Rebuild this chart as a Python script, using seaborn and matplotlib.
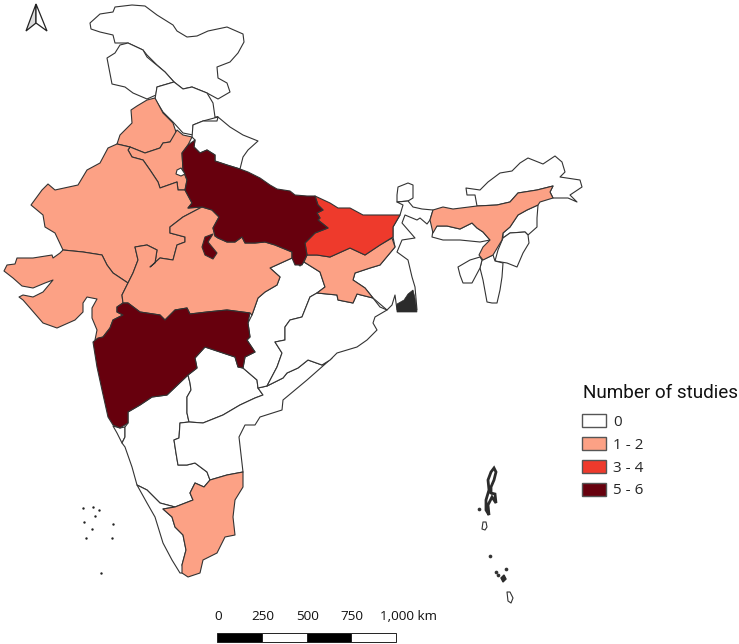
import pandas as pd
import seaborn as sns
import matplotlib.pyplot as plt
from matplotlib.patches import Patch

# outlines, in image pixels
ladakh = [(90,23),(100,14),(113,12),(115,7),(132,5),(145,6),(157,15),(173,25),(177,31),(187,37),(197,36),(208,31),(227,27),(243,34),(244,42),(238,53),(230,62),(217,67),(218,78),(227,83),(230,92),(218,99),(207,93),(192,87),(183,89),(174,82),(165,72),(157,65),(147,55),(143,50),(128,43),(115,43),(113,35),(100,32),(91,29)]
jammu = [(120,45),(128,43),(143,50),(147,57),(165,72),(174,82),(157,87),(156,95),(147,99),(133,93),(125,87),(112,84),(107,58),(115,53)]
himachal = [(174,82),(183,89),(192,87),(207,93),(213,103),(215,117),(218,117),(203,121),(193,125),(193,135),(183,133),(173,122),(163,112),(155,99),(157,87)]
uttarakhand = [(193,125),(203,121),(217,121),(218,117),(230,127),(243,135),(258,141),(248,150),(243,157),(240,169),(227,165),(215,161),(215,155),(207,150),(200,153),(194,147),(195,140),(192,137)]
punjab = [(147,100),(155,98),(163,113),(173,123),(177,135),(170,142),(163,143),(160,148),(145,153),(130,147),(117,144),(120,135),(132,123),(131,110),(137,106)]
haryana = [(130,147),(128,150),(132,157),(143,160),(150,170),(158,182),(160,188),(177,182),(178,190),(185,190),(187,180),(183,170),(182,153),(188,145),(192,137),(183,135),(177,130),(170,142),(163,143),(160,148),(145,153)]
delhi = [(177,170),(181,168),(185,174),(181,176),(176,174)]
rajasthan = [(117,144),(108,148),(100,163),(87,170),(78,185),(55,190),(48,184),(42,190),(31,205),(43,215),(45,227),(55,233),(63,250),(83,252),(102,255),(107,265),(113,273),(128,283),(133,273),(138,260),(135,247),(147,245),(157,250),(155,263),(150,267),(160,258),(173,260),(177,245),(185,242),(185,237),(170,233),(170,227),(183,217),(202,207),(188,208),(192,203),(185,190),(178,190),(177,182),(160,188),(158,182),(150,170),(143,160),(132,157),(128,150),(130,147)]
uttar_pradesh = [(195,140),(194,147),(200,153),(207,150),(215,155),(215,161),(227,165),(240,169),(248,172),(260,178),(270,185),(277,189),(290,191),(295,195),(307,196),(315,196),(318,205),(323,210),(317,213),(320,218),(318,220),(328,228),(315,233),(305,243),(307,255),(302,265),(295,265),(292,258),(292,252),(275,245),(265,242),(255,243),(245,243),(242,237),(235,242),(227,242),(218,238),(215,236),(213,228),(219,217),(212,210),(202,207),(188,208),(192,203),(185,190),(187,180),(183,170),(182,153),(188,145)]
jhansi = [(205,237),(213,234),(208,242),(217,253),(213,259),(205,255),(202,247)]
gujarat = [(4,271),(7,265),(15,264),(17,258),(33,258),(52,255),(53,258),(60,253),(63,250),(83,252),(102,255),(107,265),(113,273),(128,283),(122,295),(123,303),(117,307),(117,312),(123,315),(113,320),(110,328),(103,337),(95,340),(97,330),(92,318),(92,308),(97,299),(87,297),(83,303),(83,312),(75,320),(57,328),(43,323),(30,308),(23,300),(19,297),(23,295),(33,297),(43,292),(53,280),(45,283),(33,288),(22,286),(13,278)]
madhya_pradesh = [(128,283),(133,273),(138,260),(135,247),(147,245),(157,250),(155,263),(150,267),(160,258),(173,260),(177,245),(185,242),(185,237),(170,233),(170,227),(183,217),(202,207),(212,210),(219,217),(213,228),(215,236),(218,238),(227,242),(235,242),(242,237),(245,243),(255,243),(265,242),(275,245),(292,252),(292,258),(270,268),(280,277),(277,285),(265,292),(258,298),(252,315),(250,313),(227,310),(207,312),(190,314),(187,308),(175,310),(165,320),(160,315),(140,312),(128,303),(123,303),(122,295)]
maharashtra = [(117,307),(123,303),(128,303),(140,312),(160,315),(165,320),(175,310),(187,308),(190,314),(207,312),(227,310),(250,313),(248,323),(250,337),(247,340),(255,352),(245,357),(243,368),(238,367),(235,357),(220,352),(205,347),(195,358),(197,368),(188,375),(167,395),(152,397),(140,405),(128,412),(128,423),(120,428),(113,425),(108,417),(102,390),(97,367),(93,342),(98,338),(103,337),(110,328),(113,320),(123,315),(117,312)]
goa = [(113,426),(120,428),(125,427),(125,437),(122,443),(117,433)]
karnataka = [(128,412),(140,405),(152,397),(167,395),(188,375),(190,383),(191,390),(187,397),(187,413),(189,422),(180,423),(179,438),(174,440),(176,453),(178,465),(187,465),(195,463),(207,472),(210,480),(204,487),(195,483),(190,493),(193,500),(175,507),(160,503),(147,490),(137,485),(132,467),(125,447),(122,443),(125,437),(125,427),(128,423)]
kerala = [(137,485),(147,490),(160,503),(175,507),(163,509),(172,517),(175,527),(183,535),(186,550),(182,565),(185,573),(180,573),(172,560),(163,543),(155,517),(147,503)]
tamil_nadu = [(163,509),(175,507),(193,500),(190,493),(195,483),(204,487),(210,480),(227,475),(243,472),(243,487),(235,500),(233,517),(235,535),(225,537),(217,553),(203,560),(200,573),(188,577),(182,573),(182,565),(186,550),(183,535),(175,527),(172,517)]
telangana = [(188,375),(197,368),(195,358),(205,347),(220,352),(235,357),(238,367),(243,368),(257,380),(258,388),(263,395),(255,398),(240,405),(223,415),(203,423),(189,422),(187,413),(187,397),(191,390),(190,383)]
andhra = [(180,423),(189,422),(203,423),(223,415),(240,405),(255,398),(263,395),(258,388),(267,386),(283,378),(287,373),(298,368),(308,360),(322,365),(332,358),(307,380),(283,400),(282,410),(260,417),(255,425),(245,425),(239,437),(243,472),(227,475),(210,480),(207,472),(195,463),(187,465),(178,465),(176,453),(174,440),(179,438)]
chhattisgarh = [(292,258),(300,266),(304,262),(320,272),(325,287),(317,293),(310,297),(302,317),(290,320),(285,327),(285,340),(275,342),(282,353),(277,367),(267,386),(258,388),(257,380),(243,368),(245,357),(255,352),(247,340),(250,337),(248,323),(252,315),(258,298),(265,292),(277,285),(280,277),(270,268)]
odisha = [(317,293),(337,295),(338,300),(353,303),(357,294),(373,298),(380,307),(387,310),(375,317),(373,323),(377,330),(367,340),(357,347),(337,353),(330,360),(322,365),(308,360),(298,368),(287,373),(283,378),(267,386),(277,367),(282,353),(275,342),(285,340),(285,327),(290,320),(302,317),(310,297)]
jharkhand = [(307,255),(304,262),(320,272),(325,287),(317,293),(337,295),(338,300),(353,303),(357,294),(373,298),(365,288),(353,280),(355,273),(370,268),(380,265),(395,247),(392,238),(380,245),(365,255),(350,248),(330,257),(317,255)]
bihar = [(315,196),(330,203),(338,208),(350,208),(363,215),(383,215),(400,215),(393,227),(393,237),(380,245),(365,255),(350,248),(330,257),(317,255),(307,255),(305,243),(315,233),(328,228),(318,220),(320,218),(317,213),(323,210),(318,205)]
sikkim = [(398,187),(408,183),(413,185),(413,198),(408,201),(397,202),(397,195)]
west_bengal = [(397,202),(408,201),(413,207),(422,209),(433,210),(430,220),(427,224),(420,218),(417,220),(405,215),(402,223),(415,238),(402,240),(397,252),(408,260),(412,277),(415,287),(417,310),(397,310),(395,295),(392,305),(387,310),(373,298),(365,288),(353,280),(355,273),(370,268),(380,265),(395,247),(393,237),(393,227),(400,215),(403,205)]
sundarbans = [(397,312),(397,304),(404,300),(408,294),(413,290),(415,298),(417,312)]
assam = [(433,210),(443,207),(453,209),(477,206),(497,205),(510,202),(518,193),(537,190),(553,186),(550,192),(553,198),(540,202),(538,205),(527,210),(518,215),(510,227),(503,233),(502,240),(493,255),(483,260),(479,255),(483,247),(490,240),(483,232),(477,228),(472,223),(460,229),(447,226),(437,226),(433,233),(430,220)]
meghalaya = [(433,230),(437,226),(447,226),(460,229),(472,223),(477,228),(483,232),(490,240),(480,242),(460,240),(443,240),(432,237)]
arunachal = [(466,188),(480,190),(488,182),(500,173),(512,171),(520,163),(528,158),(543,164),(555,156),(562,162),(565,172),(560,177),(580,180),(582,187),(570,195),(577,202),(568,198),(553,198),(550,192),(553,186),(537,190),(518,193),(510,202),(497,205),(477,206),(475,195),(467,195)]
nagaland = [(538,205),(537,218),(537,227),(528,235),(525,232),(510,233),(503,238),(503,233),(510,227),(518,215),(527,210)]
manipur = [(503,238),(510,233),(525,232),(528,235),(529,243),(523,253),(517,267),(507,263),(495,261),(498,250)]
mizoram = [(482,260),(493,255),(495,261),(503,263),(502,277),(500,290),(497,303),(492,303),(487,302),(483,280),(480,268)]
tripura = [(458,267),(470,260),(480,257),(482,260),(480,268),(472,283),(463,283),(460,275)]
andaman = [(494,468),(496,472),(494,480),(491,487),(491,493),(495,494),(496,503),(492,497),(488,505),(489,515),(486,510),(486,500),(489,490),(488,480),(491,472)]
little_andaman = [(483,522),(486,522),(487,527),(485,530),(482,529)]
nicobar_mid = [(501,578),(504,575),(506,579),(503,582)]
great_nicobar = [(507,592),(510,592),(513,598),(511,603),(508,601)]

# small islands
lakshadweep_x = [83, 93, 99, 95, 84, 92, 113, 86, 112, 101]
lakshadweep_y = [508, 507, 510, 516, 522, 529, 524, 538, 538, 573]
island_x = [479, 490, 496, 498, 506]
island_y = [509, 556, 572, 575, 569]

studies = {
    "ladakh": (ladakh, 0), "jammu": (jammu, 0), "himachal": (himachal, 0),
    "uttarakhand": (uttarakhand, 0), "delhi": (delhi, 0), "goa": (goa, 0),
    "karnataka": (karnataka, 0), "kerala": (kerala, 0), "telangana": (telangana, 0),
    "andhra": (andhra, 0), "chhattisgarh": (chhattisgarh, 0), "odisha": (odisha, 0),
    "sikkim": (sikkim, 0), "west_bengal": (west_bengal, 0), "meghalaya": (meghalaya, 0),
    "arunachal": (arunachal, 0), "nagaland": (nagaland, 0), "manipur": (manipur, 0),
    "mizoram": (mizoram, 0), "tripura": (tripura, 0), "little_andaman": (little_andaman, 0),
    "great_nicobar": (great_nicobar, 0),
    "punjab": (punjab, 1), "haryana": (haryana, 1), "rajasthan": (rajasthan, 1),
    "gujarat": (gujarat, 1), "madhya_pradesh": (madhya_pradesh, 1), "jharkhand": (jharkhand, 1),
    "tamil_nadu": (tamil_nadu, 1), "assam": (assam, 1),
    "bihar": (bihar, 3),
    "uttar_pradesh": (uttar_pradesh, 5), "jhansi": (jhansi, 5), "maharashtra": (maharashtra, 5),
}

class_labels = ["0", "1 - 2", "3 - 4", "5 - 6"]
class_colors = sns.color_palette(["#ffffff", "#fca185", "#ee3a2c", "#67000d"])
class_edges = [-1, 0, 2, 4, 6]

scale_km = [0, 250, 500, 750, 1000]
scale_labels = ["0", "250", "500", "750", "1,000 km"]
scale_colors = ["black", "white", "black", "white"]

sns.set_theme(style="white")
plt.rcParams["font.family"] = ["Open Sans", "DejaVu Sans"]

df = pd.DataFrame({"name": list(studies), "n": [v[1] for v in studies.values()]})
df["cls"] = pd.cut(df["n"], class_edges, labels=False)

fig = plt.figure(figsize=(7.39, 6.44), dpi=100)
ax = fig.add_axes([0, 0, 1, 1])
ax.set_xlim(0, 739)
ax.set_ylim(644, 0)
sns.despine(ax=ax, left=True, bottom=True)
ax.set_xticks([])
ax.set_yticks([])

edge = "#333333"
# delhi sits inside haryana so it goes on top of the class 1 fills
for _, row in df[df["name"] != "delhi"].sort_values("cls", kind="stable").iterrows():
    xy = studies[row["name"]][0]
    ax.fill([p[0] for p in xy], [p[1] for p in xy], facecolor=class_colors[row["cls"]],
            edgecolor=edge, linewidth=0.8, joinstyle="round")
ax.fill([p[0] for p in delhi], [p[1] for p in delhi], facecolor="white", edgecolor=edge, linewidth=0.8)

ax.fill([p[0] for p in sundarbans], [p[1] for p in sundarbans], color="#2b2b2b", linewidth=0.5)
ax.fill([p[0] for p in andaman], [p[1] for p in andaman], facecolor="white", edgecolor="#2b2b2b", linewidth=2)
ax.fill([p[0] for p in nicobar_mid], [p[1] for p in nicobar_mid], color="#2b2b2b")
sns.scatterplot(x=lakshadweep_x, y=lakshadweep_y, s=3, color="#222222", linewidth=0, ax=ax)
sns.scatterplot(x=island_x, y=island_y, s=7, color="#333333", linewidth=0, ax=ax)

# north arrow
ax.fill([36, 26, 36], [4, 31, 23], facecolor="#dddddd", edgecolor="#222222", linewidth=0.9)
ax.fill([36, 47, 36], [4, 31, 23], facecolor="white", edgecolor="#222222", linewidth=0.9)

# scale bar
px_per_km = (396 - 217) / 1000
for i in range(4):
    ax.barh(637, (scale_km[i + 1] - scale_km[i]) * px_per_km, height=9,
            left=217 + scale_km[i] * px_per_km, color=scale_colors[i], edgecolor="#222222", linewidth=0.7)
for km, lab in zip(scale_km[:-1], scale_labels[:-1]):
    ax.text(218 + km * px_per_km, 617, lab, ha="center", va="center", fontsize=9.7, color="#111111")
ax.text(380, 617, scale_labels[-1], ha="left", va="center", fontsize=9.7, color="#111111")

# legend, title placed by hand since the legend ties its gap to labelspacing
ax.text(583, 393, "Number of studies", ha="left", va="center", fontsize=13.6, family="Roboto", color="#111111")
handles = [Patch(facecolor=c, edgecolor="#555555", linewidth=1) for c in class_colors]
leg = ax.legend(handles, class_labels, loc="upper left",
                bbox_to_anchor=(582, 414), bbox_transform=ax.transData, frameon=False,
                fontsize=11, handlelength=1.57, handleheight=0.95,
                labelspacing=0.46, handletextpad=0.46, borderpad=0, borderaxespad=0)

plt.savefig("out.png", dpi=100)
